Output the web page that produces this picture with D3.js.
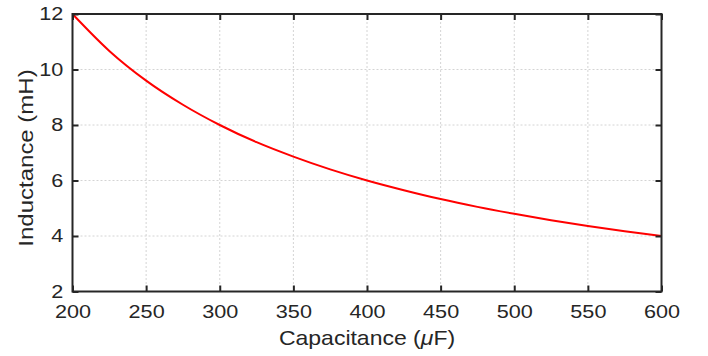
<!DOCTYPE html>
<html><head><meta charset="utf-8">
<script src="https://cdn.jsdelivr.net/npm/d3@7"></script>
<style>body{margin:0;background:#fff}svg{display:block}text{font-family:"Liberation Sans",Arial,Helvetica,sans-serif;fill:#262626}</style>
</head><body><svg id="c" width="708" height="356"></svg>
<script>
const capacitance = [200,225,250,275,300,325,350,375,400,425,450,475,500,525,550,575,600];
const inductance  = [12,10.67,9.6,8.73,8,7.38,6.86,6.4,6,5.65,5.33,5.05,4.8,4.57,4.36,4.17,4];
const xTicks = [200,250,300,350,400,450,500,550,600];
const yTicks = [2,4,6,8,10,12];

const svg = d3.select("#c");
const m = {l:72.5, r:661.5, t:14, b:291.5};
const x = d3.scaleLinear().domain([200,600]).range([m.l,m.r]);
const y = d3.scaleLinear().domain([2,12]).range([m.b,m.t]);
const SX = 1.17;

// grid
const g = svg.append("g");
g.selectAll(".gx").data(xTicks.slice(1,-1)).enter().append("line")
 .attr("x1",d=>x(d)).attr("x2",d=>x(d)).attr("y1",m.t).attr("y2",m.b)
 .attr("stroke","#d4d4d4").attr("stroke-width",1).attr("stroke-dasharray","2,2");
g.selectAll(".gy").data(yTicks.slice(1,-1)).enter().append("line")
 .attr("y1",d=>y(d)).attr("y2",d=>y(d)).attr("x1",m.l).attr("x2",m.r)
 .attr("stroke","#d4d4d4").attr("stroke-width",1).attr("stroke-dasharray","2,2");

// curve
const line = d3.line().x((d,i)=>x(capacitance[i])).y(d=>y(d)).curve(d3.curveMonotoneX);
svg.append("path").datum(inductance).attr("d",line).attr("fill","none")
 .attr("stroke","#ff0000").attr("stroke-width",2);

// axes
const axisStyle = sel => {
  sel.select(".domain").remove();
  sel.selectAll(".tick line").attr("stroke","#262626").attr("stroke-width",2);
  sel.selectAll(".tick text").style("font-size","18.5px").attr("fill","#262626")
     .attr("transform",`scale(${SX},1)`);
};
svg.append("g").attr("transform",`translate(0,${m.b})`)
 .call(d3.axisBottom(x).tickValues(xTicks).tickSizeInner(-6).tickSizeOuter(0).tickPadding(13.5))
 .call(axisStyle);
svg.append("g").attr("transform",`translate(0,${m.t})`)
 .call(d3.axisTop(x).tickValues(xTicks).tickSizeInner(-6).tickSizeOuter(0).tickFormat(""))
 .call(axisStyle);
svg.append("g").attr("transform",`translate(${m.l},0)`)
 .call(d3.axisLeft(y).tickValues(yTicks).tickSizeInner(-6).tickSizeOuter(0).tickPadding(7.8))
 .call(axisStyle);
svg.append("g").attr("transform",`translate(${m.r},0)`)
 .call(d3.axisRight(y).tickValues(yTicks).tickSizeInner(-6).tickSizeOuter(0).tickFormat(""))
 .call(axisStyle);

svg.append("rect").attr("x",m.l).attr("y",m.t).attr("width",m.r-m.l).attr("height",m.b-m.t)
 .attr("fill","none").attr("stroke","#262626").attr("stroke-width",2);

// labels
const xl = svg.append("text").attr("transform",`translate(${(m.l+m.r)/2},345) scale(1.15,1)`)
 .attr("text-anchor","middle").style("font-size","20px");
xl.append("tspan").text("Capacitance (");
xl.append("tspan").attr("font-style","italic").text("\u03bc");
xl.append("tspan").text("F)");
svg.append("text").attr("transform",`translate(32.5,158) rotate(-90) scale(1.2,1)`)
 .attr("text-anchor","middle").style("font-size","20px").text("Inductance (mH)");
</script></body></html>
